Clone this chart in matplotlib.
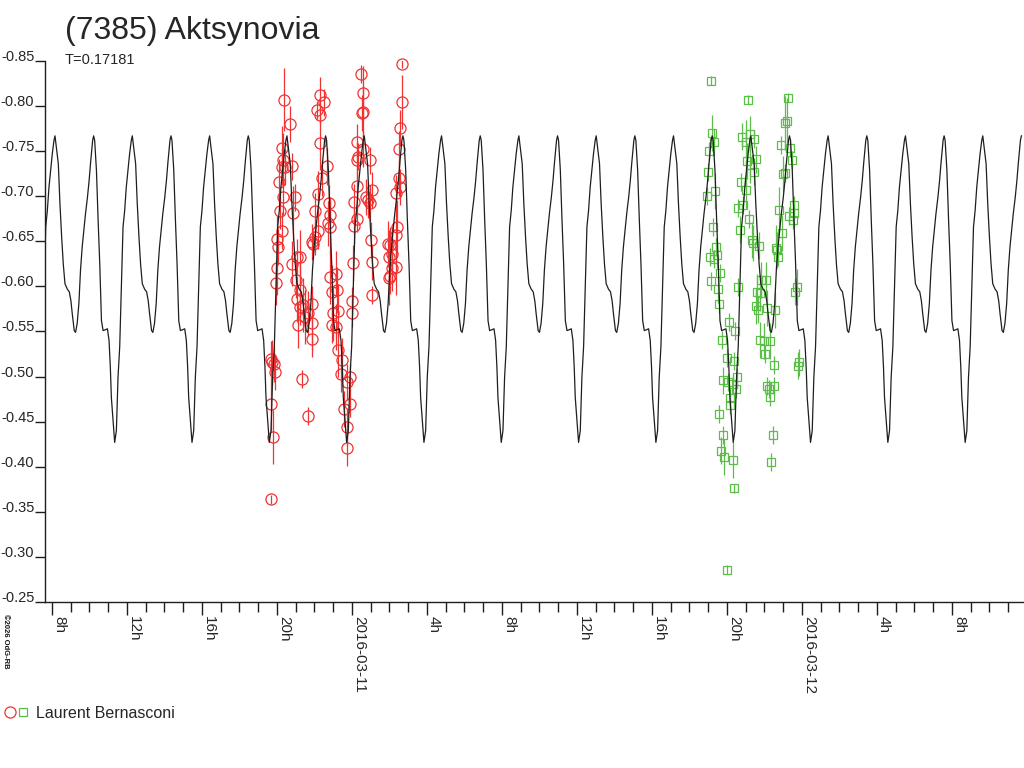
import numpy as np
import matplotlib
matplotlib.use('Agg')
import matplotlib.pyplot as plt
from matplotlib.lines import Line2D
from matplotlib.legend_handler import HandlerTuple

plt.rcParams['font.family'] = ['Liberation Sans', 'DejaVu Sans']
plt.rcParams['axes.unicode_minus'] = False

# ---- data (hours from 2016-03-11 00:00 UT, relative magnitude) ----
period_days = 0.17181
peak_time = -15.84  # a maximum of the model curve, hours

# one cycle of the model curve (phase, mag)
model_phase = [0.0, 0.043, 0.064, 0.086, 0.107, 0.129, 0.159, 0.185, 0.206, 0.223,
               0.249, 0.266, 0.287, 0.309, 0.330, 0.352, 0.373, 0.395, 0.420, 0.442,
               0.459, 0.487, 0.500, 0.513, 0.536, 0.558, 0.579, 0.601, 0.622, 0.652,
               0.678, 0.699, 0.716, 0.729, 0.751, 0.772, 0.794, 0.815, 0.837, 0.858,
               0.880, 0.901, 0.922, 0.944, 0.965, 0.987]
model_mag = [-0.767, -0.736, -0.692, -0.655, -0.625, -0.603, -0.597, -0.594, -0.584, -0.570,
             -0.551, -0.549, -0.559, -0.581, -0.618, -0.644, -0.662, -0.681, -0.699, -0.718,
             -0.736, -0.762, -0.767, -0.762, -0.729, -0.673, -0.625, -0.562, -0.551, -0.552,
             -0.553, -0.540, -0.510, -0.477, -0.451, -0.427, -0.440, -0.499, -0.533, -0.599,
             -0.666, -0.684, -0.710, -0.729, -0.747, -0.762]

# session 1 (red circles)
red_t = [-3.627, -3.307, -3.749, -3.680, -3.733, -3.573, -3.216, -3.877, -3.664, -3.040,
         -3.840, -3.163, -3.749, -3.984, -3.931, -3.984, -4.053, -3.216, -2.949, -2.773,
         -2.987, -2.773, -2.949, -2.597, -2.773, -2.864, -2.507, -2.149, -2.149, -2.149,
         -2.331, -2.683, -2.331, -4.283, -4.160, -4.107, -4.336, -4.336, -4.229, -4.320,
         -1.707, -1.493, -1.883, -1.707, -1.707, -1.349, -1.616, -1.797, -1.211, -1.973,
         -1.173, -1.264, -1.173, -1.797, -1.973, -2.149, -2.064, -1.173, -0.853, -1.083,
         -0.784, -0.997, -0.731, -1.083, -0.853, -0.731, -0.549, -0.603, -0.283, -0.107,
         -0.427, -0.107, -0.283, -0.283, 0.464, 0.571, 0.603, 0.517, 0.283, 0.336,
         0.251, 0.603, 0.960, 0.283, 0.747, 1.051, 0.107, 0.869, 0.960, 0.251,
         0.107, 0.997, 0.069, 1.051, 1.083, 0.016, -0.016, 2.651, 2.651, 2.560,
         2.491, 2.523, 2.560, 2.331, 2.384, 2.331, 1.936, 2.027, 2.117, 1.989,
         2.347, 2.117, 1.989, 2.027]
red_mag = [-0.807, -0.780, -0.753, -0.740, -0.732, -0.732, -0.733, -0.716, -0.699, -0.699,
           -0.684, -0.681, -0.662, -0.653, -0.644, -0.620, -0.604, -0.625, -0.633, -0.633,
           -0.607, -0.596, -0.586, -0.579, -0.577, -0.557, -0.566, -0.581, -0.559, -0.542,
           -0.570, -0.497, -0.456, -0.516, -0.514, -0.505, -0.520, -0.470, -0.433, -0.364,
           -0.812, -0.804, -0.796, -0.790, -0.759, -0.733, -0.720, -0.703, -0.692, -0.684,
           -0.679, -0.670, -0.666, -0.662, -0.655, -0.649, -0.647, -0.610, -0.614, -0.594,
           -0.596, -0.570, -0.573, -0.557, -0.555, -0.529, -0.518, -0.503, -0.494, -0.499,
           -0.464, -0.470, -0.444, -0.421, -0.836, -0.815, -0.793, -0.792, -0.760, -0.744,
           -0.740, -0.752, -0.740, -0.711, -0.699, -0.707, -0.694, -0.696, -0.692, -0.675,
           -0.667, -0.651, -0.626, -0.627, -0.590, -0.584, -0.570, -0.847, -0.805, -0.776,
           -0.752, -0.720, -0.710, -0.704, -0.666, -0.657, -0.647, -0.646, -0.636, -0.633,
           -0.621, -0.620, -0.609, -0.612]
red_err = [0.035, 0.02, 0.025, 0.03, 0.02, 0.02, 0.015, 0.025, 0.02, 0.015,
           0.02, 0.03, 0.02, 0.025, 0.02, 0.03, 0.025, 0.025, 0.02, 0.03,
           0.02, 0.03, 0.025, 0.03, 0.02, 0.025, 0.03, 0.02, 0.03, 0.02,
           0.025, 0.01, 0.01, 0.025, 0.02, 0.02, 0.02, 0.03, 0.03, 0.005,
           0.02, 0.015, 0.01, 0.01, 0.03, 0.02, 0.02, 0.025, 0.02, 0.02,
           0.02, 0.025, 0.03, 0.02, 0.02, 0.02, 0.015, 0.03, 0.025, 0.03,
           0.025, 0.03, 0.03, 0.02, 0.025, 0.03, 0.025, 0.02, 0.02, 0.015,
           0.02, 0.015, 0.02, 0.02, 0.01, 0.03, 0.03, 0.02, 0.02, 0.015,
           0.02, 0.02, 0.015, 0.025, 0.02, 0.02, 0.02, 0.02, 0.02, 0.015,
           0.02, 0.02, 0.02, 0.02, 0.01, 0.015, 0.015, 0.005, 0.03, 0.02,
           0.02, 0.02, 0.02, 0.02, 0.03, 0.03, 0.025, 0.02, 0.03, 0.03,
           0.03, 0.025, 0.03, 0.02]

# session 2 (green squares)
green_t = [19.131, 21.104, 23.237, 19.184, 19.307, 19.040, 20.784, 21.013, 21.227, 21.456,
           23.093, 23.184, 22.864, 23.360, 21.051, 21.531, 21.227, 23.467, 18.971, 21.456,
           23.077, 23.003, 20.731, 19.360, 18.917, 21.013, 20.603, 20.837, 23.573, 22.757,
           23.291, 23.573, 23.504, 21.157, 19.237, 20.677, 22.933, 21.317, 21.403, 21.707,
           19.413, 22.613, 22.683, 19.093, 19.483, 19.307, 22.720, 19.627, 19.163, 21.797,
           22.080, 19.520, 20.587, 23.717, 23.611, 21.584, 21.760, 19.557, 21.547, 21.653,
           22.117, 22.560, 20.107, 20.443, 19.733, 21.760, 21.973, 22.293, 22.027, 19.984,
           20.373, 22.507, 23.824, 23.771, 20.549, 19.803, 20.069, 20.304, 20.480, 22.117,
           22.523, 22.240, 20.176, 20.144, 22.309, 19.573, 19.771, 22.453, 19.680, 19.840,
           20.304, 22.331, 20.357, 20.000]
green_mag = [-0.828, -0.807, -0.809, -0.770, -0.760, -0.750, -0.766, -0.760, -0.769, -0.763,
             -0.781, -0.784, -0.757, -0.753, -0.739, -0.741, -0.735, -0.740, -0.727, -0.727,
             -0.726, -0.725, -0.716, -0.706, -0.700, -0.707, -0.687, -0.690, -0.690, -0.685,
             -0.678, -0.681, -0.674, -0.675, -0.666, -0.663, -0.659, -0.651, -0.648, -0.645,
             -0.644, -0.643, -0.640, -0.633, -0.635, -0.630, -0.633, -0.615, -0.606, -0.607,
             -0.607, -0.597, -0.599, -0.599, -0.594, -0.594, -0.593, -0.580, -0.578, -0.574,
             -0.576, -0.574, -0.561, -0.551, -0.541, -0.541, -0.539, -0.539, -0.525, -0.521,
             -0.517, -0.513, -0.516, -0.512, -0.499, -0.496, -0.494, -0.492, -0.486, -0.490,
             -0.490, -0.486, -0.476, -0.469, -0.477, -0.459, -0.435, -0.435, -0.418, -0.411,
             -0.407, -0.405, -0.376, -0.286]
green_err = [0.005, 0.005, 0.005, 0.02, 0.015, 0.01, 0.015, 0.025, 0.02, 0.01,
             0.03, 0.025, 0.01, 0.01, 0.02, 0.015, 0.02, 0.01, 0.01, 0.015,
             0.01, 0.02, 0.01, 0.02, 0.01, 0.02, 0.01, 0.01, 0.01, 0.025,
             0.01, 0.015, 0.01, 0.01, 0.01, 0.015, 0.02, 0.02, 0.02, 0.015,
             0.01, 0.025, 0.02, 0.01, 0.015, 0.01, 0.01, 0.01, 0.01, 0.02,
             0.02, 0.015, 0.01, 0.02, 0.015, 0.02, 0.02, 0.01, 0.02, 0.015,
             0.02, 0.02, 0.01, 0.01, 0.01, 0.02, 0.02, 0.02, 0.01, 0.01,
             0.01, 0.01, 0.015, 0.015, 0.01, 0.015, 0.01, 0.01, 0.01, 0.01,
             0.01, 0.01, 0.01, 0.01, 0.01, 0.01, 0.01, 0.01, 0.015, 0.02,
             0.02, 0.01, 0.005, 0.005]

tick_hours = [-16, -12, -8, -4, 0, 4, 8, 12, 16, 20, 24, 28, 32]
tick_labels = ['8h', '12h', '16h', '20h', '2016-03-11', '4h', '8h', '12h',
               '16h', '20h', '2016-03-12', '4h', '8h']
ytick_vals = [-0.85, -0.80, -0.75, -0.70, -0.65, -0.60, -0.55, -0.50,
              -0.45, -0.40, -0.35, -0.30, -0.25]

x_min, x_max = -16.373, 35.84
curve_end = 35.73

# ---- model curve repeated with the period ----
P = period_days * 24.0
cycles = np.arange(-1, 14)
curve_t = (peak_time + (cycles[:, None] + np.array(model_phase)[None, :]) * P).ravel()
curve_m = np.tile(model_mag, len(cycles))
keep = curve_t <= curve_end
curve_t, curve_m = curve_t[keep], curve_m[keep]

red = '#f03232'
green = '#5cbd48'
txt = '#262626'

fig = plt.figure(figsize=(10.24, 7.68), dpi=100)
ax = fig.add_axes([45 / 1024, 1 - 602 / 768, 979 / 1024, 541 / 768])

ax.errorbar(red_t, red_mag, yerr=red_err, fmt='none', ecolor=red, elinewidth=0.9,
            zorder=2)
ax.plot(red_t, red_mag, 'o', ms=8, mfc='none', mec=red, mew=0.9, zorder=3,
        clip_on=False)
ax.errorbar(green_t, green_mag, yerr=green_err, fmt='none', ecolor=green,
            elinewidth=0.9, zorder=2)
ax.plot(green_t, green_mag, 's', ms=5.5, mfc='none', mec=green, mew=0.9, zorder=3,
        clip_on=False)
ax.plot(curve_t, curve_m, color='#1e1e1e', lw=0.9, zorder=4)

ax.set_xlim(x_min, x_max)
ax.set_ylim(-0.25, -0.85)

for s in ['top', 'right']:
    ax.spines[s].set_visible(False)
for s in ['left', 'bottom']:
    ax.spines[s].set_color('#1e1e1e')
    ax.spines[s].set_linewidth(1.0)

ax.set_xticks(tick_hours)
ax.set_xticklabels(tick_labels, rotation=-90, ha='left', va='top', color=txt,
                   fontsize=11)
ax.set_xticks(np.arange(-16, 36), minor=True)
ax.tick_params(axis='x', which='major', length=9, width=1, color='#1e1e1e', pad=1)
ax.tick_params(axis='x', which='minor', length=7, width=1, color='#1e1e1e')

ax.set_yticks(ytick_vals)
ax.set_yticklabels(['%.2f' % v for v in ytick_vals], fontsize=10.5, color=txt,
                   va='baseline')
ax.tick_params(axis='y', length=7.2, width=1, color='#1e1e1e', pad=0.5)

fig.text(65 / 1024, 1 - 39 / 768, '(7385) Aktsynovia', fontsize=23, color=txt,
         va='baseline')
fig.text(65 / 1024, 1 - 64 / 768, 'T=0.17181', fontsize=10.5, color=txt,
         va='baseline')
fig.text(5 / 1024, 1 - 614 / 768, '\u00a92026 OdG-RB', fontsize=5.5, rotation=-90,
         ha='center', va='top', color='#111111', fontweight='bold')

h_red = Line2D([], [], ls='none', marker='o', ms=8, mfc='none', mec=red, mew=0.9)
h_green = Line2D([], [], ls='none', marker='s', ms=5.5, mfc='none', mec=green, mew=0.9)
fig.legend(handles=[(h_red, h_green)], labels=['Laurent Bernasconi'],
           handler_map={tuple: HandlerTuple(ndivide=None, pad=0.1)},
           loc='center left', bbox_to_anchor=(-0.004, 1 - 713 / 768), frameon=False,
           fontsize=11.5, handlelength=1.6, handletextpad=0.4, borderpad=0,
           labelcolor=txt)

fig.savefig('out.png', dpi=100)
